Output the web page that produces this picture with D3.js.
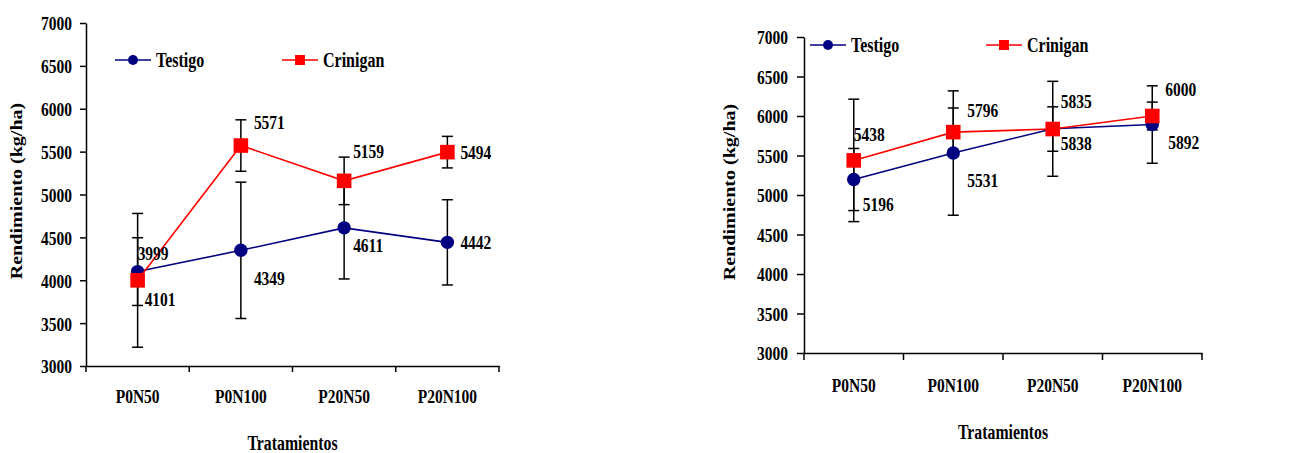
<!DOCTYPE html>
<html>
<head>
<meta charset="utf-8">
<script src="https://cdn.jsdelivr.net/npm/d3@7"></script>
<style>
  body { margin: 0; background: #fff; }
  svg { display: block; }
  text { font-family: "Liberation Serif", "Times New Roman", serif; font-weight: bold; fill: #000; }
</style>
</head>
<body>
<div id="app"></div>
<script>
// DATA ------------------------------------------------------
var categories = ["P0N50", "P0N100", "P20N50", "P20N100"];
var yTicks = [3000, 3500, 4000, 4500, 5000, 5500, 6000, 6500, 7000];
var seriesNames = ["Testigo", "Crinigan"];

// left chart
var testigoA = [4101, 4349, 4611, 4442];
var testigoErrA = [395, 795, 596, 497];
var criniganA = [3999, 5571, 5159, 5494];
var criniganErrA = [780, 300, 277, 184];

// right chart
var testigoB = [5196, 5531, 5838, 5892];
var testigoErrB = [393, 787, 601, 490];
var criniganB = [5438, 5796, 5835, 6000];
var criniganErrB = [775, 305, 281, 176];

// layout -----------------------------------------------------
var W = 1299, H = 453;
var stretch = 1.27;     // text in the source is drawn a bit tall
var fontSize = 15.5;

var svg = d3.select("#app").append("svg")
    .attr("width", W)
    .attr("height", H);

// put a text at x,y with vertical stretch
function place(sel, x, y) {
  return sel.attr("transform", "translate(" + x + "," + y + ") scale(1," + stretch + ")");
}

function drawPanel(p) {
  var x = d3.scaleBand().domain(categories).range([p.x0, p.x1]);
  var y = d3.scaleLinear().domain([3000, 7000]).range([p.y0, p.y1]);
  var cx = function(i) { return x(categories[i]) + x.bandwidth() / 2; };

  var g = svg.append("g").attr("class", "panel");

  // y axis
  var ya = g.append("g")
    .attr("transform", "translate(" + p.x0 + ",0)")
    .call(d3.axisLeft(y).tickValues(yTicks).tickFormat(d3.format("d"))
      .tickSize(p.tick).tickSizeOuter(0));
  ya.attr("font-family", null).attr("font-size", null);
  ya.selectAll("path, line").attr("stroke", "#000").attr("stroke-width", 1.5);
  ya.selectAll("text")
    .attr("x", 0).attr("dy", "0.35em")
    .attr("font-size", fontSize)
    .attr("transform", "translate(" + (-(p.tick + p.pad)) + ",0) scale(1," + stretch + ")");

  // x axis (labels at centres, ticks at band edges)
  var xa = g.append("g")
    .attr("transform", "translate(0," + p.y0 + ")")
    .call(d3.axisBottom(x).tickSize(0).tickSizeOuter(0));
  xa.attr("font-family", null).attr("font-size", null);
  xa.select("path").attr("stroke", "#000").attr("stroke-width", 1.5);
  xa.selectAll("text")
    .attr("y", 0).attr("dy", "0.35em")
    .attr("font-size", fontSize)
    .attr("transform", "translate(0," + p.xLabDy + ") scale(1," + stretch + ")");

  var edges = categories.map(function(c) { return x(c); }).concat([x.range()[1]]);
  g.selectAll(".xedge")
    .data(edges)
    .enter().append("line")
      .attr("class", "xedge")
      .attr("x1", function(d) { return d; })
      .attr("x2", function(d) { return d; })
      .attr("y1", p.y0)
      .attr("y2", p.y0 + p.tick)
      .attr("stroke", "#000")
      .attr("stroke-width", 1.5);

  // axis titles
  place(g.append("text"), (p.x0 + p.x1) / 2, p.xTitleY)
    .attr("text-anchor", "middle").attr("dy", "0.35em")
    .attr("font-size", fontSize + 0.3)
    .text("Tratamientos");

  g.append("text")
    .attr("transform", "translate(" + p.yTitleX + "," + p.yTitleY + ") rotate(-90) scale(" + stretch + ",1)")
    .attr("text-anchor", "middle").attr("dy", "0.35em")
    .attr("font-size", fontSize + 0.3)
    .text("Rendimiento (kg/ha)");

  var series = [
    { name: seriesNames[0], vals: p.testigo, err: p.testigoErr, color: "#000080", shape: "circle", lab: p.labT },
    { name: seriesNames[1], vals: p.crinigan, err: p.criniganErr, color: "#ff0000", shape: "square", lab: p.labC }
  ];

  // error bars
  series.forEach(function(s) {
    var eb = g.append("g").attr("class", "err")
      .selectAll("g").data(s.vals).enter().append("g");
    eb.append("line")
      .attr("x1", function(d, i) { return cx(i); })
      .attr("x2", function(d, i) { return cx(i); })
      .attr("y1", function(d, i) { return y(d + s.err[i]); })
      .attr("y2", function(d, i) { return y(d - s.err[i]); });
    eb.append("line")
      .attr("x1", function(d, i) { return cx(i) - 5.5; })
      .attr("x2", function(d, i) { return cx(i) + 5.5; })
      .attr("y1", function(d, i) { return y(d + s.err[i]); })
      .attr("y2", function(d, i) { return y(d + s.err[i]); });
    eb.append("line")
      .attr("x1", function(d, i) { return cx(i) - 5.5; })
      .attr("x2", function(d, i) { return cx(i) + 5.5; })
      .attr("y1", function(d, i) { return y(d - s.err[i]); })
      .attr("y2", function(d, i) { return y(d - s.err[i]); });
    eb.selectAll("line").attr("stroke", "#000").attr("stroke-width", 1.5);
  });

  // lines + markers
  series.forEach(function(s) {
    var line = d3.line()
      .x(function(d, i) { return cx(i); })
      .y(function(d) { return y(d); });
    g.append("path")
      .datum(s.vals)
      .attr("d", line)
      .attr("fill", "none")
      .attr("stroke", s.color)
      .attr("stroke-width", 1.6);

    if (s.shape === "circle") {
      g.selectAll(null).data(s.vals).enter().append("circle")
        .attr("cx", function(d, i) { return cx(i); })
        .attr("cy", function(d) { return y(d); })
        .attr("r", 6.7)
        .attr("fill", s.color);
    } else {
      g.selectAll(null).data(s.vals).enter().append("rect")
        .attr("x", function(d, i) { return cx(i) - 7.3; })
        .attr("y", function(d) { return y(d) - 7.3; })
        .attr("width", 14.6)
        .attr("height", 14.6)
        .attr("fill", s.color);
    }
  });

  // data labels
  series.forEach(function(s) {
    s.vals.forEach(function(v, i) {
      place(g.append("text"), cx(i) + s.lab[i][0], y(v) + s.lab[i][1])
        .attr("dy", "0.35em")
        .attr("font-size", fontSize)
        .text(v);
    });
  });

  // legend
  series.forEach(function(s, k) {
    var lx = p.legX[k];
    var lg = g.append("g").attr("class", "legend");
    lg.append("line")
      .attr("x1", lx).attr("x2", lx + 36)
      .attr("y1", p.legY).attr("y2", p.legY)
      .attr("stroke", s.color).attr("stroke-width", 1.6);
    if (s.shape === "circle") {
      lg.append("circle").attr("cx", lx + 18).attr("cy", p.legY).attr("r", 5).attr("fill", s.color);
    } else {
      lg.append("rect").attr("x", lx + 13).attr("y", p.legY - 5).attr("width", 10).attr("height", 10).attr("fill", s.color);
    }
    place(lg.append("text"), lx + 41, p.legY)
      .attr("dy", "0.35em")
      .attr("font-size", fontSize + 0.5)
      .text(s.name);
  });
}

drawPanel({
  x0: 86, x1: 499, y0: 366, y1: 23, tick: 6, pad: 8,
  xLabDy: 30, xTitleY: 443, yTitleX: 16, yTitleY: 191,
  legX: [115, 282], legY: 60,
  testigo: testigoA, testigoErr: testigoErrA,
  crinigan: criniganA, criniganErr: criniganErrA,
  labT: [[7, 28], [13, 28], [9, 17], [13, 0]],
  labC: [[0, -27], [13, -23], [9, -30], [13, 0]]
});

drawPanel({
  x0: 804, x1: 1202, y0: 353, y1: 37, tick: 7, pad: 9,
  xLabDy: 32, xTitleY: 432, yTitleX: 729, yTitleY: 192,
  legX: [810, 986], legY: 45,
  testigo: testigoB, testigoErr: testigoErrB,
  crinigan: criniganB, criniganErr: criniganErrB,
  labT: [[9, 25], [14, 27], [8, 14], [16, 18]],
  labC: [[0, -26], [14, -22], [8, -28], [13, -27]]
});
</script>
</body>
</html>
